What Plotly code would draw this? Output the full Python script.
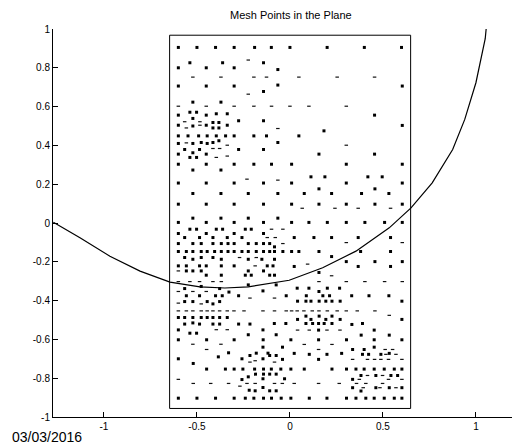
import plotly.graph_objects as go

# ---------------- data ----------------
title_text = "Mesh Points in the Plane"
date_text = "03/03/2016"

x_tick_vals = [-1, -0.5, 0, 0.5, 1]
x_tick_text = ["-1", "-0.5", "0", "0.5", "1"]
y_tick_vals = [-1, -0.8, -0.6, -0.4, -0.2, 0, 0.2, 0.4, 0.6, 0.8, 1]
y_tick_text = ["-1", "-0.8", "-0.6", "-0.4", "-0.2", "0", "0.2", "0.4", "0.6", "0.8", "1"]

# bounding rectangle of the mesh region
rect_x = [-0.647, 0.649, 0.649, -0.647, -0.647]
rect_y = [-0.956, -0.956, 0.968, 0.968, -0.956]

# circular arc
curve_x = [-1.272, -1.129, -0.968, -0.806, -0.645, -0.484, -0.35, -0.224, -0.004, 0.176,
           0.355, 0.534, 0.651, 0.765, 0.875, 0.94, 1.0, 1.03, 1.05, 1.055]
curve_y = [0.004, -0.076, -0.171, -0.248, -0.305, -0.329, -0.335, -0.329, -0.295, -0.231,
           -0.145, -0.025, 0.078, 0.207, 0.379, 0.534, 0.723, 0.85, 0.95, 1.0]

# mesh points drawn as dots
dot_x = [
    -0.60, -0.50, -0.40, -0.30, -0.19, -0.10, 0.00, 0.20, 0.40, 0.60,
    -0.538, -0.362, -0.142, -0.60, -0.45, -0.30, -0.065,
    -0.065, 0.604, -0.60, -0.45, -0.30, -0.142,
    -0.522, -0.371, -0.538, -0.502, -0.396, -0.337,
    -0.60, -0.45, 0.455, -0.522, -0.276, -0.142,
    -0.414, -0.382, -0.60, -0.522, -0.45, -0.337, 0.604,
    -0.414, -0.382, 0.183,
    -0.60, -0.548, -0.491, -0.445, -0.396, -0.346, -0.30, -0.194, -0.126, 0.048,
    -0.065, -0.60, -0.522, -0.477, -0.445, -0.414, -0.382,
    -0.566, -0.486, -0.276, -0.142,
    -0.60, -0.522, -0.45, 0.156, 0.455, -0.538, -0.502,
    -0.60, -0.45, -0.30, -0.194, -0.099, 0.009, 0.303, 0.604,
    -0.522, -0.371, 0.113, 0.188, 0.419, 0.496,
    -0.60, -0.45, -0.30, -0.142, 0.009, 0.303, 0.604,
    0.156, 0.457,
    -0.522, -0.371, -0.224, -0.065, 0.077, 0.224, 0.385, 0.532,
    -0.60, -0.45, -0.30, -0.142, 0.009, 0.156, 0.303, 0.457, 0.604,
    -0.522, -0.371, -0.224, -0.065,
    -0.60, -0.45, -0.30, -0.142, 0.009, 0.102, 0.201, 0.303, 0.403, 0.509, 0.604,
    -0.538, -0.502, -0.396, -0.362, -0.240, -0.208,
    -0.60, -0.45, -0.30, -0.142,
    -0.566, -0.486, -0.414, -0.337, -0.258, 0.023, 0.129, 0.224, 0.367, 0.541,
    -0.60, -0.522, -0.477, -0.414, -0.369, -0.333, -0.30, -0.224, -0.181, -0.142, -0.109, -0.083,
    -0.60, -0.557, -0.522, -0.477, -0.445, -0.405, -0.369, -0.333, -0.30, -0.258, -0.224,
    -0.181, -0.142, -0.109, -0.083, -0.038, 0.009, 0.048, 0.156, 0.380, 0.541,
    -0.566, -0.477, -0.414, 0.224,
    -0.522, -0.369, -0.224, -0.151, -0.083,
    0.303, 0.457, 0.604,
    -0.60, -0.557, -0.486, -0.45, -0.369, -0.30, -0.122, -0.091, 0.023, 0.367, 0.541,
    -0.557, -0.522, -0.477, -0.224, -0.142, 0.156,
    -0.45, -0.369, -0.240, -0.208, -0.109, -0.083,
    -0.566, -0.477, -0.378, -0.224, -0.074, -0.328, -0.145,
    0.039, 0.102, 0.201, 0.267, 0.156,
    -0.557, -0.486, -0.40, -0.364, -0.276, -0.020, 0.088, 0.177, 0.213, 0.332, 0.425, 0.532,
    -0.566, -0.522, -0.445, -0.378, -0.414,
    0.041, 0.086, 0.113, 0.157, 0.193, 0.226, 0.27, 0.602,
    -0.60, -0.566, -0.522, -0.477, -0.445, -0.414, -0.378, -0.337,
    0.086, 0.157, 0.226, 0.041, 0.113, 0.193, 0.27, 0.602,
    -0.084, -0.022, 0.086, 0.122, 0.154, 0.184, 0.226, 0.39, 0.333,
    -0.566, -0.486, -0.414, -0.378, -0.276, -0.215, -0.522,
    -0.60, -0.538, -0.502, -0.145, -0.224, -0.074,
    0.154, 0.453, 0.383, 0.534,
    -0.60, -0.448, -0.30, -0.144, 0.005, 0.154, 0.304, 0.453, 0.602,
    -0.04, 0.337, 0.399, 0.453,
    -0.33, -0.385, -0.215, -0.60, -0.258, -0.52,
    -0.181, -0.118, -0.074, -0.145, -0.145, -0.109,
    0.023, 0.278, 0.534, 0.104, 0.199, 0.39, 0.423, 0.489,
    -0.04, 0.154,
    -0.448, -0.347, -0.30, -0.253, -0.19, -0.142, -0.10, -0.049, 0.005, 0.077, 0.226, 0.304,
    0.355, 0.399, 0.453, 0.507, 0.561, 0.602,
    -0.224, -0.258, -0.185, -0.142, -0.109, -0.074,
    0.382, 0.462, 0.543, 0.579,
    -0.145, -0.029, 0.337,
    -0.219, -0.187, -0.109, -0.074, -0.145,
    0.337, 0.462, 0.534, 0.602, 0.382,
    -0.60, -0.50, -0.40, -0.30, -0.24, -0.194, -0.142, -0.099, -0.047, 0.005, 0.104, 0.199,
    0.304, 0.355, 0.408, 0.453, 0.507, 0.561, 0.602,
]
dot_y = [
    0.905, 0.905, 0.905, 0.905, 0.905, 0.905, 0.905, 0.905, 0.905, 0.905,
    0.826, 0.826, 0.826, 0.80, 0.80, 0.80, 0.791,
    0.711, 0.706, 0.706, 0.706, 0.706, 0.678,
    0.623, 0.623, 0.571, 0.571, 0.563, 0.563,
    0.556, 0.556, 0.556, 0.539, 0.527, 0.527,
    0.518, 0.518, 0.504, 0.50, 0.504, 0.504, 0.503,
    0.49, 0.49, 0.475,
    0.449, 0.449, 0.449, 0.449, 0.449, 0.449, 0.449, 0.449, 0.449, 0.449,
    0.415, 0.41, 0.41, 0.415, 0.41, 0.415, 0.424,
    0.379, 0.379, 0.379, 0.379,
    0.355, 0.362, 0.355, 0.355, 0.355, 0.338, 0.338,
    0.303, 0.303, 0.303, 0.303, 0.303, 0.303, 0.303, 0.303,
    0.273, 0.273, 0.238, 0.238, 0.238, 0.238,
    0.206, 0.206, 0.206, 0.206, 0.206, 0.206, 0.206,
    0.176, 0.176,
    0.152, 0.152, 0.152, 0.152, 0.152, 0.152, 0.152, 0.152,
    0.097, 0.097, 0.097, 0.097, 0.097, 0.097, 0.097, 0.097, 0.097,
    0.025, 0.025, 0.025, 0.025,
    0.003, 0.003, 0.003, 0.003, 0.003, 0.003, 0.003, 0.003, 0.003, 0.003, 0.003,
    -0.032, -0.032, -0.032, -0.032, -0.032, -0.032,
    -0.054, -0.054, -0.054, -0.054,
    -0.075, -0.075, -0.075, -0.075, -0.075, -0.075, -0.075, -0.075, -0.075, -0.075,
    -0.106, -0.106, -0.106, -0.106, -0.106, -0.106, -0.106, -0.106, -0.106, -0.106, -0.106, -0.123,
    -0.147, -0.147, -0.147, -0.147, -0.147, -0.147, -0.147, -0.147, -0.147, -0.147, -0.147,
    -0.147, -0.147, -0.147, -0.147, -0.147, -0.147, -0.147, -0.147, -0.147, -0.147,
    -0.178, -0.178, -0.178, -0.173,
    -0.187, -0.187, -0.187, -0.187, -0.187,
    -0.199, -0.199, -0.199,
    -0.221, -0.221, -0.221, -0.221, -0.221, -0.221, -0.221, -0.221, -0.224, -0.224, -0.224,
    -0.247, -0.247, -0.247, -0.247, -0.247, -0.255,
    -0.269, -0.269, -0.269, -0.269, -0.269, -0.269,
    -0.338, -0.327, -0.338, -0.319, -0.319, -0.356, -0.350,
    -0.336, -0.336, -0.336, -0.336, -0.353,
    -0.375, -0.375, -0.375, -0.375, -0.375, -0.375, -0.375, -0.375, -0.375, -0.375, -0.375, -0.375,
    -0.405, -0.405, -0.405, -0.405, -0.417,
    -0.403, -0.403, -0.403, -0.403, -0.403, -0.403, -0.403, -0.403,
    -0.487, -0.487, -0.487, -0.487, -0.487, -0.487, -0.487, -0.487,
    -0.48, -0.48, -0.48, -0.497, -0.497, -0.497, -0.497, -0.497,
    -0.518, -0.518, -0.518, -0.518, -0.518, -0.518, -0.518, -0.518, -0.523,
    -0.521, -0.521, -0.521, -0.521, -0.521, -0.521, -0.515,
    -0.551, -0.568, -0.568, -0.551, -0.576, -0.576,
    -0.552, -0.552, -0.578, -0.578,
    -0.602, -0.602, -0.602, -0.602, -0.602, -0.602, -0.602, -0.602, -0.602,
    -0.64, -0.652, -0.652, -0.64,
    -0.669, -0.69, -0.683, -0.70, -0.70, -0.724,
    -0.671, -0.671, -0.683, -0.64, -0.70, -0.683,
    -0.672, -0.672, -0.672, -0.677, -0.677, -0.677, -0.677, -0.677,
    -0.703, -0.703,
    -0.753, -0.753, -0.753, -0.753, -0.753, -0.753, -0.753, -0.753, -0.753, -0.753, -0.753, -0.753,
    -0.753, -0.753, -0.753, -0.753, -0.753, -0.753,
    -0.793, -0.807, -0.779, -0.779, -0.779, -0.779,
    -0.786, -0.786, -0.786, -0.786,
    -0.803, -0.803, -0.806,
    -0.862, -0.865, -0.865, -0.865, -0.848,
    -0.849, -0.849, -0.849, -0.849, -0.866,
    -0.903, -0.903, -0.903, -0.903, -0.903, -0.903, -0.903, -0.903, -0.903, -0.903, -0.903, -0.903,
    -0.903, -0.903, -0.903, -0.903, -0.903, -0.903, -0.903,
]

# mesh points that render as small dashes
dash_x = [
    -0.224,
    -0.522, -0.371, -0.194, -0.126, 0.048, 0.254, 0.455,
    -0.224,
    -0.60, -0.45, -0.30, -0.194, -0.099, 0.00, 0.102, 0.303,
    -0.566, -0.484, -0.557, -0.484, -0.065,
    -0.557, -0.337, 0.303, -0.414, -0.378, -0.337, -0.396,
    -0.231, -0.065,
    0.066, 0.242, 0.367, 0.541,
    -0.099, -0.038, -0.122, -0.079, -0.038, 0.303, 0.604,
    -0.271, -0.181, -0.187, 0.095, -0.60, 0.224,
    -0.60, -0.538, -0.486, -0.414, -0.369, 0.156, 0.303, 0.403, 0.509, 0.604,
    -0.60, -0.522, -0.45, -0.215, -0.083, -0.60, -0.477,
    -0.60, -0.557, -0.522, -0.477, -0.445, -0.414, -0.378, -0.337, -0.301, -0.247, -0.145, -0.083,
    -0.020, 0.009, 0.039, 0.075, 0.120, 0.156, 0.201, 0.254, 0.303, 0.362, 0.457,
    0.534, -0.396, -0.337,
    0.041, 0.104, 0.199, 0.269,
    -0.522, -0.371, 0.077, 0.226, -0.448,
    0.154, 0.512, 0.552,
    0.516, 0.57,
    -0.187, -0.215, -0.083,
    0.337, 0.417, 0.455, 0.489, 0.530, 0.602,
    -0.60, 0.417, 0.498, 0.373, 0.530, 0.602,
    -0.52, -0.426, -0.33, -0.231, -0.187, -0.083, -0.041, 0.023, 0.154, 0.265, 0.358, 0.408, 0.498,
    -0.269, 0.394, 0.484, 0.57,
]
dash_y = [
    0.840,
    0.752, 0.752, 0.752, 0.752, 0.752, 0.752, 0.752,
    0.664,
    0.602, 0.602, 0.602, 0.602, 0.602, 0.602, 0.602, 0.602,
    0.522, 0.522, 0.49, 0.504, 0.487,
    0.413, 0.401, 0.401, 0.384, 0.384, 0.345, 0.338,
    0.226, 0.221,
    0.076, 0.076, 0.076, 0.076,
    -0.032, -0.032, -0.075, -0.075, -0.106, -0.101, -0.101,
    -0.178, -0.178, -0.221, -0.212, -0.247, -0.272,
    -0.302, -0.302, -0.302, -0.302, -0.302, -0.302, -0.302, -0.302, -0.302, -0.302,
    -0.353, -0.353, -0.353, -0.387, -0.387, -0.413, -0.417,
    -0.453, -0.453, -0.453, -0.453, -0.453, -0.453, -0.453, -0.453, -0.453, -0.453, -0.453, -0.453,
    -0.453, -0.453, -0.453, -0.453, -0.453, -0.453, -0.453, -0.453, -0.453, -0.453, -0.453,
    -0.476, -0.55, -0.55,
    -0.552, -0.552, -0.552, -0.552,
    -0.625, -0.625, -0.626, -0.626, -0.652,
    -0.652, -0.652, -0.652,
    -0.677, -0.677,
    -0.71, -0.717, -0.717,
    -0.703, -0.703, -0.703, -0.703, -0.703, -0.703,
    -0.806, -0.786, -0.786, -0.806, -0.806, -0.806,
    -0.827, -0.827, -0.827, -0.827, -0.827, -0.827, -0.827, -0.827, -0.827, -0.827, -0.827, -0.827, -0.827,
    -0.841, -0.849, -0.849, -0.849,
]

# ---------------- figure ----------------
FONT = "Liberation Sans, Arial, sans-serif"

fig = go.Figure()

fig.add_trace(go.Scatter(x=rect_x, y=rect_y, mode="lines",
                         line=dict(color="black", width=1), hoverinfo="skip"))
fig.add_trace(go.Scatter(x=curve_x, y=curve_y, mode="lines",
                         line=dict(color="black", width=1.2), hoverinfo="skip"))
fig.add_trace(go.Scatter(x=dot_x, y=dot_y, mode="markers",
                         marker=dict(symbol="square", size=3, color="black",
                                     line=dict(width=0))))
fig.add_trace(go.Scatter(x=dash_x, y=dash_y, mode="markers",
                         marker=dict(symbol="line-ew", size=2.5,
                                     line=dict(width=1.2, color="#111111"))))

axis_common = dict(
    showgrid=False, zeroline=False, showline=True, linecolor="black", linewidth=1,
    ticks="inside", ticklen=5, tickwidth=1, tickcolor="black",
    tickfont=dict(family=FONT, size=10, color="black"),
)

fig.update_layout(
    width=512, height=445,
    margin=dict(l=53, r=0, t=29, b=28, pad=0),
    paper_bgcolor="white", plot_bgcolor="white",
    showlegend=False,
    xaxis=dict(range=[-1.274, 1.194], tickvals=x_tick_vals, ticktext=x_tick_text,
               **axis_common),
    yaxis=dict(range=[-1, 1], tickvals=y_tick_vals, ticktext=y_tick_text,
               **axis_common),
    annotations=[
        dict(text=title_text, xref="paper", yref="paper", x=0.5185, y=1.036,
             xanchor="center", yanchor="middle", showarrow=False,
             font=dict(family=FONT, size=11, color="black")),
        dict(text=date_text, xref="paper", yref="paper", x=-0.0937, y=-0.0515,
             xanchor="left", yanchor="middle", showarrow=False,
             font=dict(family=FONT, size=14, color="black")),
    ],
)

fig.write_html("out.html")
